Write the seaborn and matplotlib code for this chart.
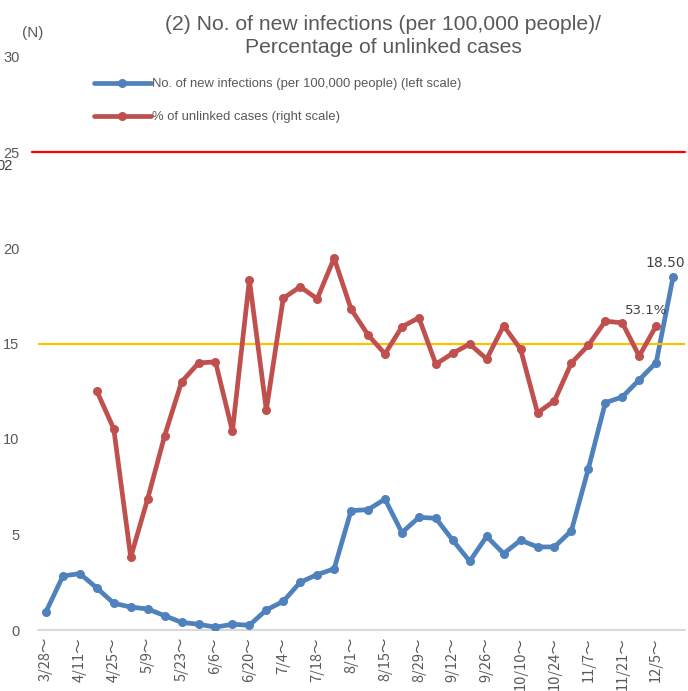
import numpy as np
import pandas as pd
import matplotlib
matplotlib.use("Agg")
import matplotlib.pyplot as plt
import seaborn as sns

# -----------------------------
# Data
# -----------------------------
weeks = [
    "3/28", "4/4", "4/11", "4/18", "4/25", "5/2", "5/9", "5/16", "5/23", "5/30",
    "6/6", "6/13", "6/20", "6/27", "7/4", "7/11", "7/18", "7/25", "8/1", "8/8",
    "8/15", "8/22", "8/29", "9/5", "9/12", "9/19", "9/26", "10/3", "10/10", "10/17",
    "10/24", "10/31", "11/7", "11/14", "11/21", "11/28", "12/5", "12/12",
]
new_infections = [
    0.95, 2.83, 2.95, 2.2, 1.4, 1.2, 1.1, 0.75, 0.4, 0.3,
    0.15, 0.3, 0.25, 1.05, 1.5, 2.5, 2.9, 3.2, 6.25, 6.3,
    6.85, 5.1, 5.9, 5.85, 4.7, 3.6, 4.9, 4.0, 4.7, 4.35,
    4.35, 5.2, 8.45, 11.9, 12.2, 13.1, 14.0, 18.5,
]
unlinked_pct = [
    np.nan, np.nan, np.nan, 41.7, 35.1, 12.7, 22.9, 33.9, 43.3, 46.6,
    46.8, 34.7, 61.1, 38.4, 57.9, 59.9, 57.8, 64.9, 56.0, 51.5,
    48.2, 52.9, 54.5, 46.4, 48.3, 49.9, 47.3, 53.1, 49.0, 37.9,
    40.0, 46.6, 49.7, 53.9, 53.6, 47.8, 53.1, np.nan,
]
left_ticks = [0, 5, 10, 15, 20, 25, 30]
threshold_left = 25
threshold_right = 50

df = pd.DataFrame({"week": weeks, "idx": range(len(weeks)),
                   "infections": new_infections, "unlinked": unlinked_pct})

sns.set_theme(style="white")
plt.rcParams["font.family"] = ["Liberation Sans", "DejaVu Sans"]

BLUE = "#4F81BD"
RED = "#C0504D"
GRAY = "#595959"

fig = plt.figure(figsize=(6.88, 6.91), dpi=100)
W, H = 688, 691
ax = fig.add_axes([37.5 / W, (H - 630) / H, (685 - 37.5) / W, (630 - 57) / H])
ax2 = ax.twinx()

sns.lineplot(data=df, x="idx", y="infections", ax=ax, color=BLUE, lw=3.4,
             marker="o", markersize=6.5, markeredgewidth=0,
             label="No. of new infections (per 100,000 people) (left scale)")
sns.lineplot(data=df.dropna(), x="idx", y="unlinked", ax=ax2, color=RED, lw=3.4,
             marker="o", markersize=6.5, markeredgewidth=0,
             label="% of unlinked cases (right scale)")

ax.axhline(threshold_left, color="#FF0000", lw=1.6, zorder=1,
           xmin=-6 / 648, clip_on=False)
ax2.axhline(threshold_right, color="#FFC000", lw=1.6, zorder=1)

ax.set_xlim(-0.5, len(weeks) - 0.3)
ax.set_ylim(0, 30)
ax2.set_ylim(0, 100)
ax.set_yticks(left_ticks)
ax.set_yticklabels([str(t) for t in left_ticks], color=GRAY, fontsize=10.5)
ax.tick_params(axis="y", length=0, pad=13)
ax2.set_yticks([])
ax.set_xticks(df["idx"][::2])
ax.set_xticklabels([w + "～" for w in weeks[::2]], rotation=90, color=GRAY,
                   fontsize=10.5, family=["Noto Sans CJK JP", "DejaVu Sans"])
ax.tick_params(axis="x", length=0, pad=5)
ax.set_xlabel("")
ax.set_ylabel("")
ax2.set_ylabel("")

for a in (ax, ax2):
    for s in ("top", "right", "left", "bottom"):
        a.spines[s].set_visible(False)
ax.axhline(0, color="#D9D9D9", lw=1.5, zorder=0, clip_on=False)

# legend: combine both series into one, placed upper-left
h1, l1 = ax.get_legend_handles_labels()
h2, l2 = ax2.get_legend_handles_labels()
if ax.get_legend():
    ax.get_legend().remove()
if ax2.get_legend():
    ax2.get_legend().remove()
leg = ax2.legend(h1 + h2, l1 + l2, loc="upper left", frameon=False,
                 bbox_to_anchor=(51 / 648, 1 - (73 - 57) / 573),
                 fontsize=9.4, handlelength=4.4, handletextpad=0.05,
                 labelspacing=1.6, borderaxespad=0)
for t in leg.get_texts():
    t.set_color(GRAY)

# data labels
ax.annotate("18.50", (37, new_infections[-1]), xytext=(-6, 5),
            textcoords="offset points", ha="center", va="bottom",
            fontsize=10, color="#404040", family=["DejaVu Sans"])
ax2.annotate("53.1%", (36, unlinked_pct[36]), xytext=(-7, 6),
             textcoords="offset points", ha="center", va="bottom",
             fontsize=9.6, color="#404040", family=["DejaVu Sans"])

fig.text(383 / W, 1 - 36 / H,
         "(2) No. of new infections (per 100,000 people)/\nPercentage of unlinked cases",
         ha="center", va="center", fontsize=15.2, color=GRAY, linespacing=1.25)
fig.text(33 / W, 1 - 33 / H, "(N)", ha="center", va="center", fontsize=11, color=GRAY)
fig.text(-4 / W, 1 - 166 / H, "02", ha="left", va="center", fontsize=10.5, color="#404040")

fig.savefig("out.png", dpi=100)
